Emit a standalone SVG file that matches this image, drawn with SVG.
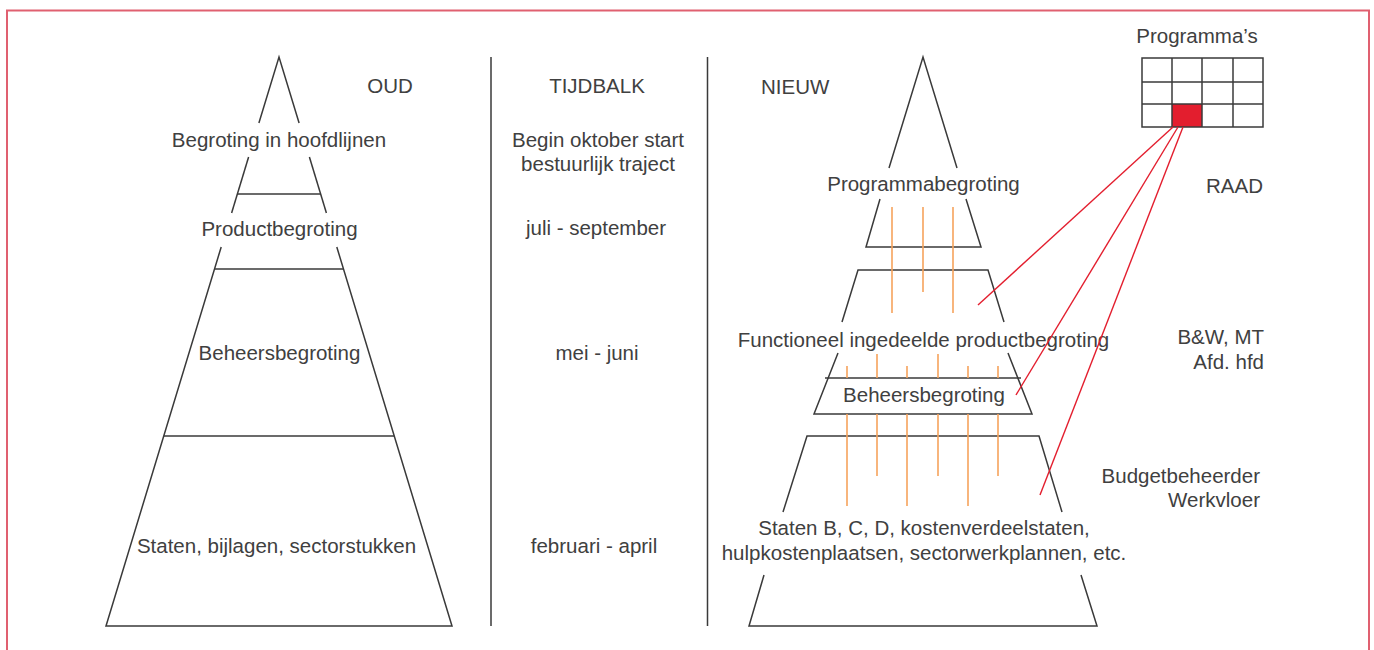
<svg xmlns="http://www.w3.org/2000/svg" width="1374" height="650" viewBox="0 0 1374 650">
<style>
.ln{stroke:#3a3a3a;stroke-width:1.5;fill:none}
.or{stroke:#f6a35c;stroke-width:1.6;fill:none}
.rd{stroke:#e31e2e;stroke-width:1.4;fill:none}
text{font-family:"Liberation Sans",Arial,sans-serif;font-size:20.5px;fill:#404040}
.c{text-anchor:middle}
.r{text-anchor:end}
</style>
<rect x="7" y="10.5" width="1362" height="700" fill="#ffffff" stroke="#e06070" stroke-width="2"/>
<g id="headers">
<text x="390" y="93" class="c">OUD</text>
<text x="597" y="93" class="c">TIJDBALK</text>
<text x="761" y="94">NIEUW</text>
</g>
<g id="dividers">
<line class="ln" x1="491" y1="57" x2="491" y2="626"/>
<line class="ln" x1="707.5" y1="57" x2="707.5" y2="626"/>
</g>
<g id="oud-pyramid">
<polyline class="ln" points="258.9,123 279,57 299.1,123"/>
<line class="ln" x1="248.6" y1="157" x2="231.6" y2="213"/>
<line class="ln" x1="309.4" y1="157" x2="326.4" y2="213"/>
<line class="ln" x1="237" y1="194" x2="321" y2="194"/>
<polyline class="ln" points="221.2,247 106,626 452,626 336.8,247"/>
<line class="ln" x1="214.5" y1="269" x2="343.5" y2="269"/>
<line class="ln" x1="164" y1="436" x2="394" y2="436"/>
<text x="279" y="147" class="c">Begroting in hoofdlijnen</text>
<text x="279.5" y="236" class="c">Productbegroting</text>
<text x="279.5" y="360" class="c">Beheersbegroting</text>
<text x="276.5" y="553" class="c">Staten, bijlagen, sectorstukken</text>
</g>
<g id="tijdbalk">
<text x="598" y="147" class="c">Begin oktober start</text>
<text x="598" y="171" class="c">bestuurlijk traject</text>
<text x="596" y="235" class="c">juli - september</text>
<text x="597" y="360" class="c">mei - juni</text>
<text x="594" y="553" class="c">februari - april</text>
</g>
<g id="nieuw-programmabegroting">
<polyline class="ln" points="889,168 923,57 957,168"/>
<polyline class="ln" points="880,199 866,247 981,247 966,199"/>
<text x="923.5" y="191" class="c">Programmabegroting</text>
</g>
<g id="nieuw-productbegroting">
<polyline class="ln" points="842,322 858,270 988,270 1004,322"/>
<polyline class="ln" points="838,353 814,414 1032,414 1008,353"/>
<line class="ln" x1="825" y1="378" x2="1021" y2="378"/>
<text x="923.5" y="347" class="c">Functioneel ingedeelde productbegroting</text>
</g>
<g id="nieuw-beheersbegroting">
<text x="924" y="402" class="c">Beheersbegroting</text>
</g>
<g id="nieuw-staten">
<polyline class="ln" points="783,512 807,436 1039,436 1062,512"/>
<polyline class="ln" points="764,575 749,626 1097,626 1081,575"/>
<text x="924" y="535" class="c">Staten B, C, D, kostenverdeelstaten,</text>
<text x="924" y="560" class="c">hulpkostenplaatsen, sectorwerkplannen, etc.</text>
</g>
<g id="niveaus">
<text x="1263" y="193" class="r">RAAD</text>
<text x="1264" y="344" class="r">B&amp;W, MT</text>
<text x="1264" y="369" class="r">Afd. hfd</text>
<text x="1260" y="483" class="r">Budgetbeheerder</text>
<text x="1260" y="507" class="r">Werkvloer</text>
</g>
<g id="programmas">
<text x="1197" y="43" class="c">Programma’s</text>
<rect x="1172" y="104" width="30" height="23" fill="#e31e2e"/>
<rect x="1142" y="58" width="121" height="69" class="ln"/>
<line class="ln" x1="1172" y1="58" x2="1172" y2="127"/>
<line class="ln" x1="1202" y1="58" x2="1202" y2="127"/>
<line class="ln" x1="1233" y1="58" x2="1233" y2="127"/>
<line class="ln" x1="1142" y1="82" x2="1263" y2="82"/>
<line class="ln" x1="1142" y1="104" x2="1263" y2="104"/>
</g>
<g id="connectors">
<line class="or" x1="892" y1="207" x2="892" y2="313"/>
<line class="or" x1="923" y1="207" x2="923" y2="292"/>
<line class="or" x1="953" y1="207" x2="953" y2="313"/>
<line class="or" x1="847" y1="366" x2="847" y2="378"/>
<line class="or" x1="877" y1="354" x2="877" y2="378"/>
<line class="or" x1="907" y1="366" x2="907" y2="378"/>
<line class="or" x1="938" y1="354" x2="938" y2="378"/>
<line class="or" x1="968" y1="366" x2="968" y2="378"/>
<line class="or" x1="998" y1="366" x2="998" y2="378"/>
<line class="or" x1="847" y1="414" x2="847" y2="506"/>
<line class="or" x1="877" y1="414" x2="877" y2="476"/>
<line class="or" x1="907" y1="414" x2="907" y2="506"/>
<line class="or" x1="938" y1="414" x2="938" y2="476"/>
<line class="or" x1="968" y1="414" x2="968" y2="506"/>
<line class="or" x1="998" y1="414" x2="998" y2="476"/>
<line class="rd" x1="1173" y1="127" x2="978" y2="305"/>
<line class="rd" x1="1178" y1="127" x2="1016" y2="395"/>
<line class="rd" x1="1183" y1="127" x2="1040" y2="495"/>
</g>
</svg>
